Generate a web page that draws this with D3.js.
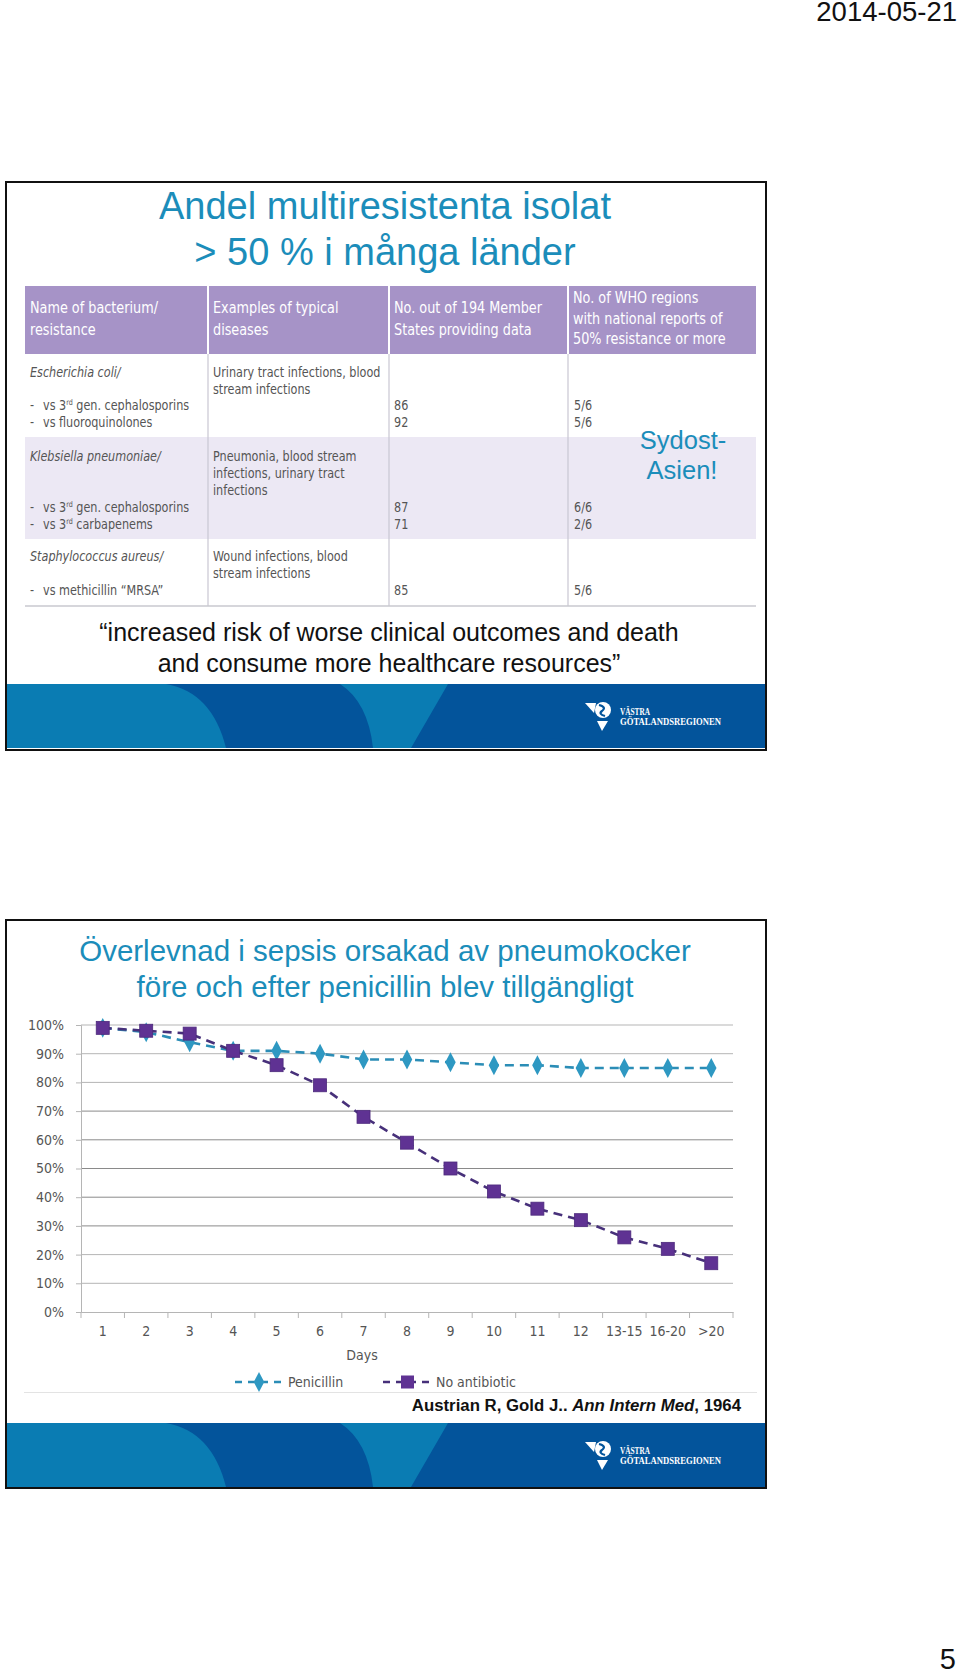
<!DOCTYPE html>
<html><head><meta charset="utf-8">
<script src="https://cdn.jsdelivr.net/npm/d3@7"></script>
<style>
html,body{margin:0;padding:0;background:#fff;}
svg{display:block;}
</style></head>
<body>
<script>
// ---------- DATA ----------
const categories = ["1","2","3","4","5","6","7","8","9","10","11","12","13-15","16-20",">20"];
const penicillin = [99, 97.5, 94, 91, 91, 90, 88, 88, 87, 86, 86, 85, 85, 85, 85];
const noAntibiotic = [99, 98, 97, 91, 86, 79, 68, 59, 50, 42, 36, 32, 26, 22, 17];
const yTickValues = [0,10,20,30,40,50,60,70,80,90,100];
const seriesNames = ["Penicillin","No antibiotic"];

const tableHeaders = [
  ["Name of bacterium/","resistance"],
  ["Examples of typical","diseases"],
  ["No. out of 194 Member","States providing data"],
  ["No. of WHO regions","with national reports of","50% resistance or more"]
];
const tableRows = [
  {bacterium:"Escherichia coli/", diseases:["Urinary tract infections, blood","stream infections"],
   subs:[["vs 3","rd"," gen. cephalosporins","86","5/6"],["vs fluoroquinolones","","","92","5/6"]]},
  {bacterium:"Klebsiella pneumoniae/", diseases:["Pneumonia, blood stream","infections, urinary tract","infections"],
   subs:[["vs 3","rd"," gen. cephalosporins","87","6/6"],["vs 3","rd"," carbapenems","71","2/6"]]},
  {bacterium:"Staphylococcus aureus/", diseases:["Wound infections, blood","stream infections"],
   subs:[["vs methicillin \u201CMRSA\u201D","","","85","5/6"]]}
];

// ---------- SVG ----------
const W = 960, H = 1672;
const svg = d3.select("body").append("svg").attr("width", W).attr("height", H);
const teal = "#1b8dba";
const cond = '"Liberation Sans Narrow","DejaVu Sans Condensed","Roboto Condensed",sans-serif';
const arial = '"Liberation Sans", Arial, Helvetica, sans-serif';

// condensed text helper
function ctext(x, y, str, size, sx, fill) {
  return svg.append("text").attr("transform", `translate(${x},${y}) scale(${sx},1)`)
    .attr("font-family", cond).attr("font-size", size).attr("fill", fill).text(str);
}

// date and page number
svg.append("text").attr("x", 957).attr("y", 21).attr("text-anchor","end")
  .attr("font-family", arial).attr("font-size", 27.5).attr("fill","#111").text("2014-05-21");
svg.append("text").attr("x", 956).attr("y", 1669).attr("text-anchor","end")
  .attr("font-family", arial).attr("font-size", 29).attr("fill","#111").text("5");

function footer(top, bottom) {
  const g = svg.append("g");
  g.append("rect").attr("x", 7).attr("y", top).attr("width", 758).attr("height", bottom-top).attr("fill","#03549b");
  g.append("path").attr("d", `M7,${top} L166,${top} Q212,${top+8} 226,${bottom} L7,${bottom} Z`).attr("fill","#0a7cb3");
  g.append("path").attr("d", `M340,${top} L448,${top} L411,${bottom} L373,${bottom} Q368,${top+18} 340,${top} Z`).attr("fill","#0a7cb3");
  // logo
  const lx = 585, ly = top + 19;
  g.append("path").attr("d", `M${lx},${ly} L${lx+11},${ly} L${lx+9},${ly+10} Z`).attr("fill","#fff");
  g.append("circle").attr("cx", lx+18).attr("cy", ly+7).attr("r", 8).attr("fill","#fff");
  g.append("path").attr("d", `M${lx+14},${ly+2} Q${lx+22},${ly+4} ${lx+17},${ly+8} Q${lx+13},${ly+11} ${lx+20},${ly+13}`)
    .attr("fill","none").attr("stroke","#03549b").attr("stroke-width",2.2);
  g.append("path").attr("d", `M${lx+12},${ly+18} L${lx+23},${ly+18} L${lx+17},${ly+28} Z`).attr("fill","#fff");
  g.append("text").attr("x", lx+35).attr("y", ly+12).attr("font-family",'"Liberation Serif","DejaVu Serif",serif')
    .attr("font-size", 11).attr("font-weight","bold").attr("fill","#fff")
    .attr("textLength", 30).attr("lengthAdjust","spacingAndGlyphs").text("VÄSTRA");
  g.append("text").attr("x", lx+35).attr("y", ly+21.5).attr("font-family",'"Liberation Serif","DejaVu Serif",serif')
    .attr("font-size", 11).attr("font-weight","bold").attr("fill","#fff")
    .attr("textLength", 101).attr("lengthAdjust","spacingAndGlyphs").text("GÖTALANDSREGIONEN");
}

// ========== SLIDE 1 ==========
svg.append("rect").attr("x", 6).attr("y", 182).attr("width", 760).attr("height", 568)
  .attr("fill","#fff").attr("stroke","#111").attr("stroke-width", 2);

const t1 = svg.append("text").attr("text-anchor","middle").attr("font-family", arial).attr("font-size", 38).attr("fill", teal);
t1.append("tspan").attr("x", 385).attr("y", 219).text("Andel multiresistenta isolat");
t1.append("tspan").attr("x", 385).attr("y", 265).text("> 50 % i många länder");

// table
const colX = [25, 208, 389, 568, 756];
const headTop = 286, headBot = 354;
svg.append("rect").attr("x", colX[0]).attr("y", headTop).attr("width", colX[4]-colX[0]).attr("height", headBot-headTop).attr("fill","#a693c7");
svg.append("rect").attr("x", colX[0]).attr("y", 437).attr("width", colX[4]-colX[0]).attr("height", 102).attr("fill","#ece8f4");
[1,2,3].forEach(i=>{
  svg.append("line").attr("x1", colX[i]).attr("x2", colX[i]).attr("y1", headTop).attr("y2", headBot).attr("stroke","#fff").attr("stroke-width",2);
  svg.append("line").attr("x1", colX[i]).attr("x2", colX[i]).attr("y1", headBot).attr("y2", 606).attr("stroke","#c9c6d2").attr("stroke-width",1.2);
});
svg.append("line").attr("x1", colX[0]).attr("x2", colX[4]).attr("y1", 606).attr("y2", 606).attr("stroke","#c9c9cf").attr("stroke-width",1.5);

tableHeaders.forEach((lines,i)=>{
  const n = lines.length;
  const start = n === 2 ? 313 : 303;
  const step = n === 2 ? 22 : 20.5;
  lines.forEach((l,j)=> ctext(colX[i]+5, start + j*step, l, 15.5, 0.92, "#fff"));
});

const bodyFill = "#555";
const rowTops = [372, 456, 556];
const subY = [[405, 422],[507, 524],[590]];
const bsx = 0.89;
tableRows.forEach((r,i)=>{
  const y0 = rowTops[i] + 5;
  ctext(colX[0]+5, y0, r.bacterium, 14, bsx, bodyFill).attr("font-style","italic");
  r.diseases.forEach((d,j)=> ctext(colX[1]+5, y0 + j*17, d, 14, bsx, bodyFill));
  r.subs.forEach((s,j)=>{
    const yy = subY[i][j] + 5;
    ctext(colX[0]+5, yy, "-", 14, bsx, bodyFill);
    const t = ctext(colX[0]+18, yy, "", 14, bsx, bodyFill);
    t.append("tspan").text(s[0]);
    if (s[1]) { t.append("tspan").attr("font-size", 8).attr("dy", -5).text(s[1]); t.append("tspan").attr("dy", 5).text(s[2]); }
    ctext(colX[2]+5, yy, s[3], 14, bsx, bodyFill);
    ctext(colX[3]+6, yy, s[4], 14, bsx, bodyFill);
  });
});

const sa = svg.append("text").attr("text-anchor","middle").attr("font-family", arial).attr("font-size", 25.5).attr("fill", teal);
sa.append("tspan").attr("x", 683).attr("y", 449).text("Sydost-");
sa.append("tspan").attr("x", 682).attr("y", 479).text("Asien!");

const q = svg.append("text").attr("text-anchor","middle").attr("font-family", arial).attr("font-size", 25).attr("fill","#111");
q.append("tspan").attr("x", 389).attr("y", 641).text("\u201Cincreased risk of worse clinical outcomes and death");
q.append("tspan").attr("x", 389).attr("y", 672).text("and consume more healthcare resources\u201D");

footer(684, 748);

// ========== SLIDE 2 ==========
svg.append("rect").attr("x", 6).attr("y", 920).attr("width", 760).attr("height", 568)
  .attr("fill","#fff").attr("stroke","#111").attr("stroke-width", 2);
const t2 = svg.append("text").attr("text-anchor","middle").attr("font-family", arial).attr("font-size", 29.5).attr("fill", teal);
t2.append("tspan").attr("x", 385).attr("y", 961).text("Överlevnad i sepsis orsakad av pneumokocker");
t2.append("tspan").attr("x", 385).attr("y", 997).text("före och efter penicillin blev tillgängligt");

const x = d3.scaleBand().domain(categories).range([81, 733]);
const y = d3.scaleLinear().domain([0, 100]).range([1312, 1025]);
const chart = svg.append("g");
const gridC = "#b5b5b5";

// gridlines
chart.append("g").selectAll("line").data(yTickValues.filter(v=>v>0)).join("line")
  .attr("x1", 81).attr("x2", 733).attr("y1", d=>y(d)).attr("y2", d=>y(d))
  .attr("stroke", d => (d>=30 && d<=70) ? "#8a8a8a" : gridC).attr("stroke-width", 1);

// y axis
const yAxis = chart.append("g").attr("transform","translate(81,0)")
  .call(d3.axisLeft(y).tickValues(yTickValues).tickFormat(d=>d+"%").tickSize(5).tickPadding(12));
yAxis.select(".domain").attr("stroke", gridC);
yAxis.selectAll(".tick line").attr("stroke", gridC);
yAxis.selectAll("text").attr("font-family", cond).attr("font-size", 14).attr("fill","#555");

// x axis
const xAxis = chart.append("g").attr("transform","translate(0,1312)")
  .call(d3.axisBottom(x).tickSize(0).tickPadding(14));
xAxis.select(".domain").attr("stroke", gridC);
xAxis.selectAll("text").attr("font-family", cond).attr("font-size", 14).attr("fill","#555");
chart.append("g").selectAll("line").data(categories.concat(["__end"])).join("line")
  .attr("x1", (d,i)=> i < categories.length ? x(d) : x.range()[1])
  .attr("x2", (d,i)=> i < categories.length ? x(d) : x.range()[1])
  .attr("y1", 1312).attr("y2", 1318).attr("stroke", gridC);
svg.append("text").attr("x", 362).attr("y", 1360).attr("text-anchor","middle").attr("font-family", cond)
  .attr("font-size", 14).attr("fill","#555").text("Days");

const cx = d => x(d) + x.bandwidth()/2;
const penLineC = "#2b8db6", penMarkC = "#2e98c2";
const noLineC = "#47307a", noMarkC = "#5f3293";

const lineGen = d3.line().x((d,i)=>cx(categories[i])).y(d=>y(d));
chart.append("path").datum(penicillin).attr("d", lineGen).attr("fill","none")
  .attr("stroke", penLineC).attr("stroke-width", 2.6).attr("stroke-dasharray","9,6");
chart.append("path").datum(noAntibiotic).attr("d", lineGen).attr("fill","none")
  .attr("stroke", noLineC).attr("stroke-width", 2.6).attr("stroke-dasharray","9,6");

const diamond = d3.symbol().type(d3.symbolDiamond).size(95);
chart.append("g").selectAll("path").data(penicillin).join("path")
  .attr("d", diamond).attr("transform",(d,i)=>`translate(${cx(categories[i])},${y(d)}) scale(1,1.1)`)
  .attr("fill", penMarkC);
chart.append("g").selectAll("rect").data(noAntibiotic).join("rect")
  .attr("x",(d,i)=>cx(categories[i])-6.5).attr("y", d=>y(d)-6.5).attr("width",13).attr("height",13)
  .attr("fill", noMarkC).attr("stroke","#4d2a7c").attr("stroke-width",0.8);

// legend
const leg = svg.append("g");
const legItems = [{name:seriesNames[0], x0:235, line:penLineC, mark:penMarkC, type:"d"},
                  {name:seriesNames[1], x0:383, line:noLineC, mark:noMarkC, type:"s"}];
legItems.forEach(it=>{
  leg.append("line").attr("x1", it.x0).attr("x2", it.x0+49).attr("y1",1382).attr("y2",1382)
    .attr("stroke", it.line).attr("stroke-width",2.6).attr("stroke-dasharray","7,6");
  if (it.type==="d") leg.append("path").attr("d", diamond).attr("transform",`translate(${it.x0+24},1382) scale(1,1.1)`).attr("fill", it.mark);
  else leg.append("rect").attr("x", it.x0+18).attr("y",1375.5).attr("width",13).attr("height",13).attr("fill", it.mark);
  leg.append("text").attr("x", it.x0+53).attr("y", 1387).attr("font-family", cond).attr("font-size",14).attr("fill","#555").text(it.name);
});
svg.append("line").attr("x1", 24).attr("x2", 757).attr("y1", 1392.5).attr("y2", 1392.5).attr("stroke","#e3e3e3").attr("stroke-width",1.2);

const cit = svg.append("text").attr("x", 741).attr("y", 1411).attr("text-anchor","end")
  .attr("font-family", arial).attr("font-size", 16.8).attr("font-weight","bold").attr("fill","#111");
cit.append("tspan").text("Austrian R, Gold J.. ");
cit.append("tspan").attr("font-style","italic").text("Ann Intern Med");
cit.append("tspan").text(", 1964");

footer(1423, 1487);
</script>
</body></html>
